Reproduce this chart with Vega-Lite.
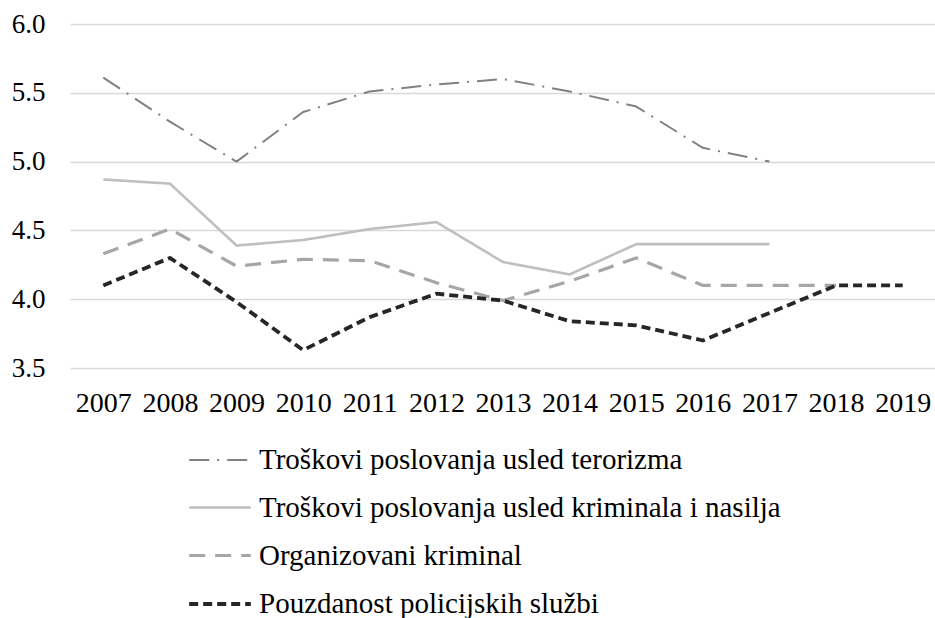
{
  "$schema": "https://vega.github.io/schema/vega-lite/v6.json",
  "autosize": "none",
  "width": 866,
  "height": 344,
  "padding": {"left": 70, "top": 24, "right": 0, "bottom": 250},
  "background": "white",
  "config": {
    "view": {"stroke": null},
    "font": "Liberation Serif",
    "axis": {"labelFont": "Liberation Serif", "labelColor": "#000000", "labelFontSize": 27},
    "legend": {"labelFont": "Liberation Serif", "labelColor": "#000000", "labelFontSize": 29, "labelLimit": 0}
  },
  "data": {
    "values": [
      {"year": "2007", "series": "Troškovi poslovanja usled terorizma", "value": 5.61},
      {"year": "2008", "series": "Troškovi poslovanja usled terorizma", "value": 5.29},
      {"year": "2009", "series": "Troškovi poslovanja usled terorizma", "value": 5.0},
      {"year": "2010", "series": "Troškovi poslovanja usled terorizma", "value": 5.36},
      {"year": "2011", "series": "Troškovi poslovanja usled terorizma", "value": 5.51},
      {"year": "2012", "series": "Troškovi poslovanja usled terorizma", "value": 5.56},
      {"year": "2013", "series": "Troškovi poslovanja usled terorizma", "value": 5.6},
      {"year": "2014", "series": "Troškovi poslovanja usled terorizma", "value": 5.51},
      {"year": "2015", "series": "Troškovi poslovanja usled terorizma", "value": 5.4},
      {"year": "2016", "series": "Troškovi poslovanja usled terorizma", "value": 5.1},
      {"year": "2017", "series": "Troškovi poslovanja usled terorizma", "value": 5.0},
      {"year": "2007", "series": "Troškovi poslovanja usled kriminala i nasilja", "value": 4.87},
      {"year": "2008", "series": "Troškovi poslovanja usled kriminala i nasilja", "value": 4.84},
      {"year": "2009", "series": "Troškovi poslovanja usled kriminala i nasilja", "value": 4.39},
      {"year": "2010", "series": "Troškovi poslovanja usled kriminala i nasilja", "value": 4.43},
      {"year": "2011", "series": "Troškovi poslovanja usled kriminala i nasilja", "value": 4.51},
      {"year": "2012", "series": "Troškovi poslovanja usled kriminala i nasilja", "value": 4.56},
      {"year": "2013", "series": "Troškovi poslovanja usled kriminala i nasilja", "value": 4.27},
      {"year": "2014", "series": "Troškovi poslovanja usled kriminala i nasilja", "value": 4.18},
      {"year": "2015", "series": "Troškovi poslovanja usled kriminala i nasilja", "value": 4.4},
      {"year": "2016", "series": "Troškovi poslovanja usled kriminala i nasilja", "value": 4.4},
      {"year": "2017", "series": "Troškovi poslovanja usled kriminala i nasilja", "value": 4.4},
      {"year": "2007", "series": "Organizovani kriminal", "value": 4.33},
      {"year": "2008", "series": "Organizovani kriminal", "value": 4.51},
      {"year": "2009", "series": "Organizovani kriminal", "value": 4.24},
      {"year": "2010", "series": "Organizovani kriminal", "value": 4.29},
      {"year": "2011", "series": "Organizovani kriminal", "value": 4.28},
      {"year": "2012", "series": "Organizovani kriminal", "value": 4.12},
      {"year": "2013", "series": "Organizovani kriminal", "value": 3.99},
      {"year": "2014", "series": "Organizovani kriminal", "value": 4.13},
      {"year": "2015", "series": "Organizovani kriminal", "value": 4.3},
      {"year": "2016", "series": "Organizovani kriminal", "value": 4.1},
      {"year": "2017", "series": "Organizovani kriminal", "value": 4.1},
      {"year": "2018", "series": "Organizovani kriminal", "value": 4.1},
      {"year": "2007", "series": "Pouzdanost policijskih službi", "value": 4.1},
      {"year": "2008", "series": "Pouzdanost policijskih službi", "value": 4.3},
      {"year": "2009", "series": "Pouzdanost policijskih službi", "value": 3.98},
      {"year": "2010", "series": "Pouzdanost policijskih službi", "value": 3.63},
      {"year": "2011", "series": "Pouzdanost policijskih službi", "value": 3.87},
      {"year": "2012", "series": "Pouzdanost policijskih službi", "value": 4.04},
      {"year": "2013", "series": "Pouzdanost policijskih službi", "value": 3.99},
      {"year": "2014", "series": "Pouzdanost policijskih službi", "value": 3.84},
      {"year": "2015", "series": "Pouzdanost policijskih službi", "value": 3.81},
      {"year": "2016", "series": "Pouzdanost policijskih službi", "value": 3.7},
      {"year": "2017", "series": "Pouzdanost policijskih službi", "value": 3.9},
      {"year": "2018", "series": "Pouzdanost policijskih službi", "value": 4.1},
      {"year": "2019", "series": "Pouzdanost policijskih službi", "value": 4.1}
    ]
  },
  "mark": {"type": "line", "strokeCap": "butt", "strokeJoin": "round"},
  "encoding": {
    "x": {
      "field": "year", "type": "ordinal",
      "scale": {"type": "point", "padding": 0.5},
      "axis": {"title": null, "labelAngle": 0, "domain": false, "ticks": false, "labelPadding": 21, "labelFontSize": 28, "grid": false}
    },
    "y": {
      "field": "value", "type": "quantitative",
      "scale": {"domain": [3.5, 6.0], "zero": false, "nice": false},
      "axis": {"title": null, "values": [3.5, 4.0, 4.5, 5.0, 5.5, 6.0], "format": ".1f", "domain": false, "ticks": false, "labelPadding": 25, "gridColor": "#d9d9d9", "gridWidth": 1.3}
    },
    "color": {
      "field": "series", "type": "nominal",
      "scale": {
        "domain": ["Troškovi poslovanja usled terorizma", "Troškovi poslovanja usled kriminala i nasilja", "Organizovani kriminal", "Pouzdanost policijskih službi"],
        "range": ["#808080", "#bfbfbf", "#a6a6a6", "#262626"]
      },
      "legend": {
        "title": null, "orient": "none", "legendX": 117, "legendY": 404,
        "direction": "vertical", "symbolType": "stroke", "symbolSize": 3800,
        "labelOffset": 6, "rowPadding": -22, "symbolStrokeWidth": 3, "labelLimit": 0
      }
    },
    "strokeDash": {
      "field": "series", "type": "nominal",
      "scale": {
        "domain": ["Troškovi poslovanja usled terorizma", "Troškovi poslovanja usled kriminala i nasilja", "Organizovani kriminal", "Pouzdanost policijskih službi"],
        "range": [[20, 8, 2, 8], [1, 0], [16, 10], [9, 5]]
      },
      "legend": null
    },
    "strokeWidth": {
      "field": "series", "type": "nominal",
      "scale": {
        "domain": ["Troškovi poslovanja usled terorizma", "Troškovi poslovanja usled kriminala i nasilja", "Organizovani kriminal", "Pouzdanost policijskih službi"],
        "range": [2, 3.8, 3.5, 3.8]
      },
      "legend": null
    }
  }
}
